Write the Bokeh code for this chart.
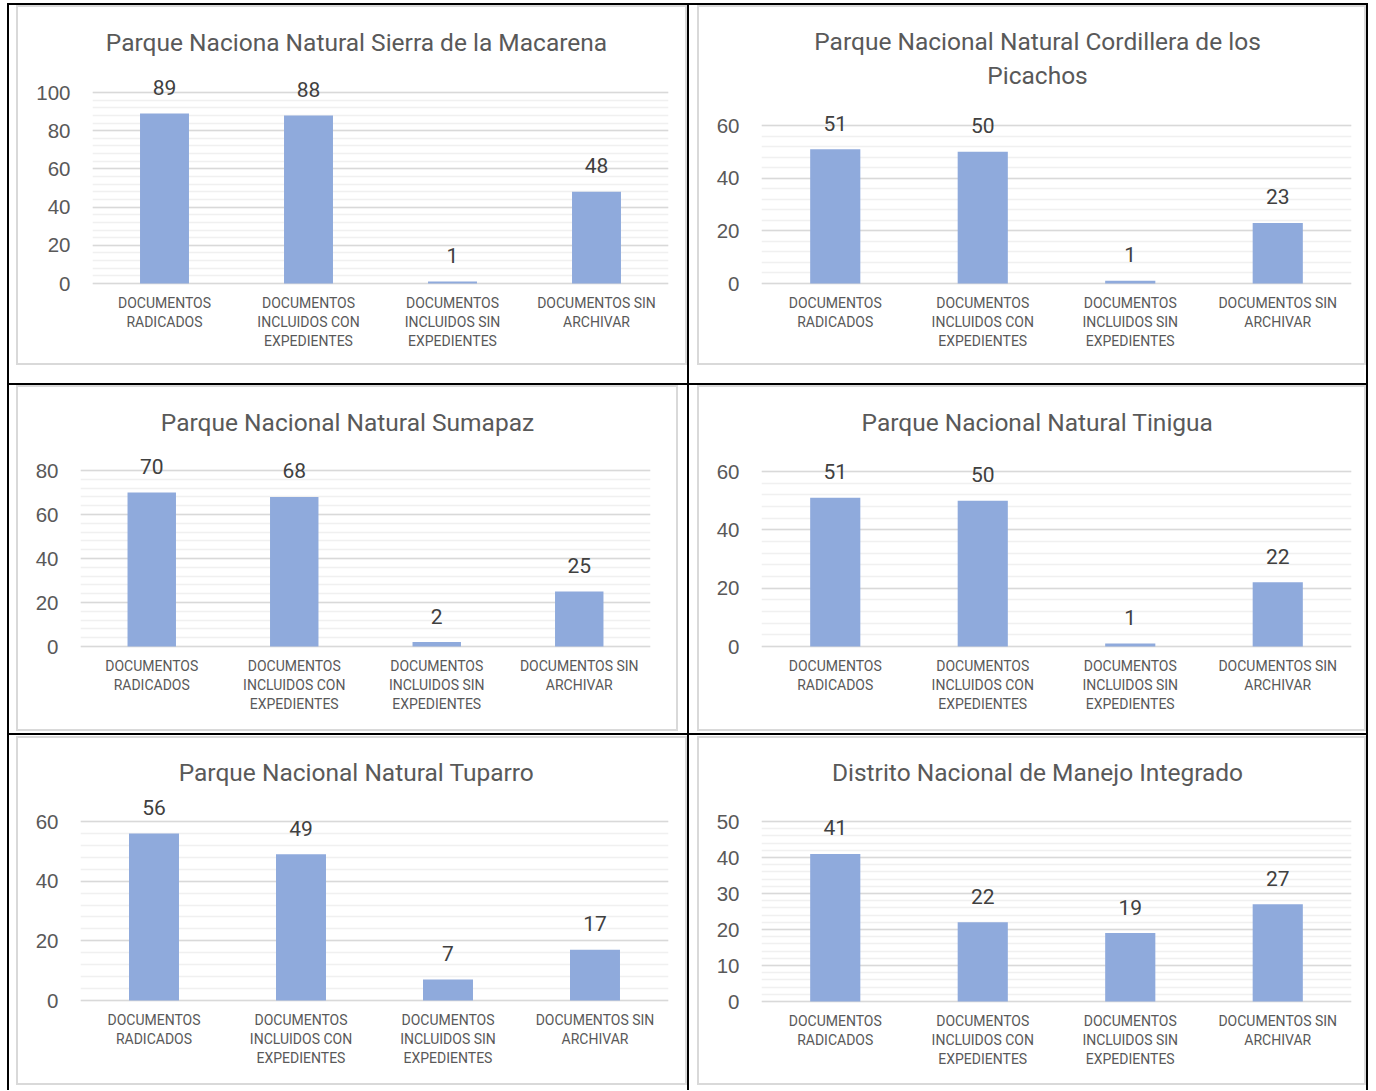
from bokeh.plotting import figure
from bokeh.models import (FactorRange, Range1d, FixedTicker, ColumnDataSource, LabelSet,
                          Label, Div, Spacer, Row, Column)
from bokeh.embed import file_html
from bokeh.resources import INLINE
from bokeh.core.properties import value

# ---------------- data ----------------
categories = ["DOCUMENTOS\nRADICADOS",
              "DOCUMENTOS\nINCLUIDOS CON\nEXPEDIENTES",
              "DOCUMENTOS\nINCLUIDOS SIN\nEXPEDIENTES",
              "DOCUMENTOS SIN\nARCHIVAR"]

titles = [["Parque Naciona Natural Sierra de la Macarena"],
          ["Parque Nacional Natural Cordillera de los", "Picachos"],
          ["Parque Nacional Natural Sumapaz"],
          ["Parque Nacional Natural Tinigua"],
          ["Parque Nacional Natural Tuparro"],
          ["Distrito Nacional de Manejo Integrado"]]

macarena = [89, 88, 1, 48]
picachos = [51, 50, 1, 23]
sumapaz = [70, 68, 2, 25]
tinigua = [51, 50, 1, 22]
tuparro = [56, 49, 7, 17]
manejo_integrado = [41, 22, 19, 27]
series = [macarena, picachos, sumapaz, tinigua, tuparro, manejo_integrado]

y_max = [100, 60, 80, 60, 60, 50]
y_step = [20, 20, 20, 20, 20, 10]

# ---------------- geometry (layout only) ----------------
# W, H, frame left, frame width, top-tick y, zero y, title centre y's, title centre x
GEOM = [
    (671, 360, 76, 576, 87, 278, [37], 340),
    (669, 360, 64, 590, 120, 278, [36, 70], 340),
    (662, 346, 64, 570, 85, 261, [37], 331),
    (669, 346, 64, 590, 86, 261, [37], 340),
    (671, 349, 64, 588, 85, 264, [36], 340),
    (669, 349, 64, 590, 85, 265, [36], 340),
]

FONT = "Roboto"
REG = "Liberation Sans"
GRAY_TXT = "#595959"
BAR = "#8FAADC"


def div(w, h, color):
    return Div(text="", width=w, height=h, margin=0,
               styles={"background-color": color})


def spacer(w, h):
    return Spacer(width=w, height=h, margin=0)


def make_panel(i):
    W, H, L, FW, T, B, tcs, tx = GEOM[i]
    b = 2
    Wc, Hc = W - 2 * b, H - 2 * b
    L -= b
    T -= b
    B -= b
    tx -= b
    tcs = [t - b for t in tcs]
    Ft, pad_bot = 3, 2
    Fb = B + pad_bot
    ymax, step = y_max[i], y_step[i]
    ppu = (B - T) / ymax

    p = figure(x_range=FactorRange(factors=categories, range_padding=0),
               y_range=Range1d(-pad_bot / ppu, ymax + (T - Ft) / ppu),
               frame_width=FW, frame_height=Fb - Ft,
               min_border_left=L, min_border_right=Wc - L - FW,
               min_border_top=Ft, min_border_bottom=Hc - Fb,
               title=None, output_backend="svg", toolbar_location=None,
               outline_line_color=None, background_fill_color="white",
               border_fill_color="white")

    # chart title(s), placed in the empty top part of the frame
    for line, tc in zip(titles[i], tcs):
        p.add_layout(Label(x=(tx - L) / FW * len(categories), y=ymax + (T - tc) / ppu,
                           text=line, text_align="center", text_baseline="middle",
                           text_font=FONT, text_font_size="24.5px",
                           text_color=GRAY_TXT))

    src = ColumnDataSource(dict(x=categories, top=series[i],
                                label=[str(v) for v in series[i]]))
    p.vbar(x="x", top="top", width=0.34, source=src,
           fill_color=BAR, line_color=None)
    p.add_layout(LabelSet(x="x", y="top", text="label", source=src,
                          text_align="center", text_baseline="alphabetic",
                          y_offset=18.5, text_font=value(FONT),
                          text_font_size="21px", text_color="#404040"))

    majors = list(range(0, ymax + 1, step))
    minors = [k * step / 5 for k in range(0, int(ymax / step * 5) + 1)]
    p.yaxis.ticker = FixedTicker(ticks=majors, minor_ticks=minors)
    p.yaxis.axis_line_color = None
    p.yaxis.major_tick_line_color = None
    p.yaxis.minor_tick_line_color = None
    p.yaxis.major_tick_out = 0
    p.yaxis.minor_tick_out = 0
    p.yaxis.major_label_standoff = 22
    p.yaxis.major_label_text_font = REG
    p.yaxis.major_label_text_font_size = "20.5px"
    p.yaxis.major_label_text_color = GRAY_TXT

    p.xaxis.axis_line_color = None
    p.xaxis.major_tick_line_color = None
    p.xaxis.major_tick_out = 0
    p.xaxis.major_tick_in = 0
    p.xaxis.major_label_standoff = 9
    p.xaxis.major_label_text_font = FONT
    p.xaxis.major_label_text_font_size = "14px"
    p.xaxis.major_label_text_color = GRAY_TXT

    p.xgrid.grid_line_color = None
    p.ygrid.grid_line_color = "#d9d9d9"
    p.ygrid.grid_line_width = 1.5
    p.ygrid.minor_grid_line_color = "#f0f0f0"
    p.ygrid.minor_grid_line_width = 1.5

    g = "#d9d9d9"
    boxed = Column(children=[div(W, b, g),
                             Row(children=[div(b, Hc, g), p, div(b, Hc, g)], spacing=0),
                             div(W, b, g)], spacing=0)
    return boxed


K = "black"
FULLW = 1361

panels = [make_panel(i) for i in range(6)]


def cell(panel, w, h, top, ph):
    kids = []
    if top:
        kids.append(spacer(w, top))
    kids.append(panel)
    rest = h - top - ph
    if rest > 0:
        kids.append(spacer(w, rest))
    return Column(children=kids, spacing=0)


h1 = 378
row1 = Row(children=[div(2, h1, K), spacer(7, h1),
                     cell(panels[0], 671, h1, 0, 360),
                     div(2, h1, K), spacer(8, h1),
                     cell(panels[1], 669, h1, 0, 360),
                     div(2, h1, K)], spacing=0)
h2 = 348
row2 = Row(children=[div(2, h2, K), spacer(7, h2),
                     cell(panels[2], 662, h2, 0, 346), spacer(9, h2),
                     div(2, h2, K), spacer(8, h2),
                     cell(panels[3], 669, h2, 0, 346),
                     div(2, h2, K)], spacing=0)
h3 = 355
row3 = Row(children=[div(2, h3, K), spacer(7, h3),
                     cell(panels[4], 671, h3, 1, 349),
                     div(2, h3, K), spacer(8, h3),
                     cell(panels[5], 669, h3, 1, 349),
                     div(2, h3, K)], spacing=0)

grid = Column(children=[spacer(FULLW, 3), div(FULLW, 2, K), row1, div(FULLW, 2, K), row2,
                        div(FULLW, 2, K), row3], spacing=0)
layout = Row(children=[spacer(7, 1090), grid], spacing=0)

open("out.html", "w").write(file_html(layout, INLINE))
